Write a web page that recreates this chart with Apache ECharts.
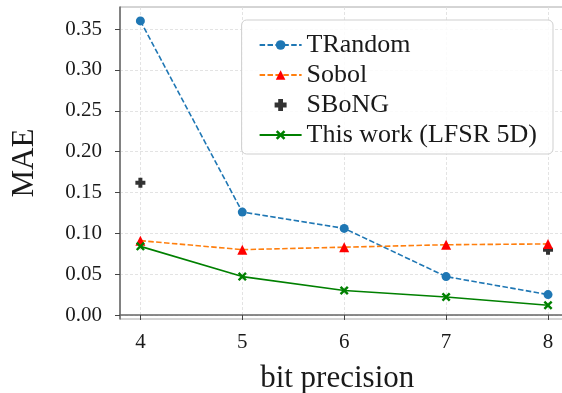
<!DOCTYPE html>
<html>
<head>
<meta charset="utf-8">
<script src="https://cdn.jsdelivr.net/npm/echarts@6/dist/echarts.min.js"></script>
<style>html,body{margin:0;padding:0;background:#fff}#c{width:562px;height:393px}</style>
</head>
<body>
<div id="c"></div>
<script>
const bits = [4, 5, 6, 7, 8];
const trandom = [0.360, 0.126, 0.106, 0.047, 0.025];
const sobol = [0.091, 0.080, 0.083, 0.086, 0.087];
const sbongBits = [4, 8];
const sbong = [0.162, 0.080];
const lfsr = [0.084, 0.047, 0.030, 0.022, 0.012];
const yTicks = [0, 0.05, 0.10, 0.15, 0.20, 0.25, 0.30, 0.35];

const zip = (xs, ys) => xs.map((x, i) => [x, ys[i]]);
const FONT = '"Liberation Serif", "DejaVu Serif", serif';
const plusPath = 'path://M-1.2,-3 L1.2,-3 L1.2,-1.2 L3,-1.2 L3,1.2 L1.2,1.2 L1.2,3 L-1.2,3 L-1.2,1.2 L-3,1.2 L-3,-1.2 L-1.2,-1.2 Z';
const xPath = 'path://M0,-1.6 L2.6,-4.2 L4.2,-2.6 L1.6,0 L4.2,2.6 L2.6,4.2 L0,1.6 L-2.6,4.2 L-4.2,2.6 L-1.6,0 L-4.2,-2.6 L-2.6,-4.2 Z';
const gridLine = { show: true, lineStyle: { color: '#dcdcdc', type: [3, 2], width: 0.8 } };

const chart = echarts.init(document.getElementById('c'), null, { renderer: 'canvas' });
chart.setOption({
  animation: false,
  backgroundColor: '#fff',
  grid: { left: 120, top: 7, width: 448.4, height: 312, outerBoundsMode: 'none', containLabel: false,
    show: true, borderColor: '#aaa', borderWidth: 1, backgroundColor: 'transparent' },
  xAxis: {
    type: 'value', min: 3.8, max: 8.2,
    name: 'bit precision', nameLocation: 'middle', nameGap: 44,
    nameTextStyle: { fontFamily: FONT, fontSize: 31, color: '#1a1a1a', padding: [0, 14, 0, 0] },
    axisLine: { show: true, lineStyle: { color: '#666', width: 1.5 } },
    axisTick: { show: true, customValues: bits, length: 5, lineStyle: { color: '#444', width: 1 } },
    axisLabel: { customValues: bits, margin: 13, fontFamily: FONT, fontSize: 21, color: '#1a1a1a' },
    splitLine: gridLine
  },
  yAxis: {
    type: 'value', min: -0.0049, max: 0.377,
    name: 'MAE', nameLocation: 'middle', nameGap: 80, nameRotate: 90,
    nameTextStyle: { fontFamily: FONT, fontSize: 31, color: '#1a1a1a' },
    axisLine: { show: true, lineStyle: { color: '#666', width: 1.5 } },
    axisTick: { show: true, customValues: yTicks, length: 5, lineStyle: { color: '#444', width: 1 } },
    axisLabel: { customValues: yTicks, margin: 18, fontFamily: FONT, fontSize: 21, color: '#1a1a1a',
      formatter: v => v.toFixed(2) },
    splitLine: gridLine
  },
  legend: {
    right: 9, top: 20, orient: 'vertical',
    padding: [12, 16, 6, 17],
    itemWidth: 42, itemHeight: 12, itemGap: 4,
    backgroundColor: 'rgba(255,255,255,0.85)', borderColor: '#cfcfcf', borderWidth: 1, borderRadius: 5,
    textStyle: { fontFamily: FONT, fontSize: 26, color: '#1a1a1a' },
    data: ['TRandom', 'Sobol', 'SBoNG', 'This work (LFSR 5D)']
  },
  series: [
    { name: 'TRandom', type: 'line', data: zip(bits, trandom),
      lineStyle: { color: '#1f77b4', width: 1.6, type: [5.5, 2.4] },
      itemStyle: { color: '#1f77b4' }, symbol: 'circle', symbolSize: 9, showAllSymbol: true },
    { name: 'Sobol', type: 'line', data: zip(bits, sobol),
      lineStyle: { color: '#ff7f0e', width: 1.6, type: [5.5, 2.4] },
      itemStyle: { color: '#ff0000' }, symbol: 'triangle', symbolSize: 10, showAllSymbol: true },
    { name: 'SBoNG', type: 'scatter', data: zip(sbongBits, sbong),
      itemStyle: { color: '#000' }, symbol: plusPath, symbolSize: 10 },
    { name: 'This work (LFSR 5D)', type: 'line', data: zip(bits, lfsr),
      lineStyle: { color: '#008000', width: 1.6 },
      itemStyle: { color: '#008000' }, symbol: xPath, symbolSize: 9, showAllSymbol: true }
  ]
});
</script>
</body>
</html>
